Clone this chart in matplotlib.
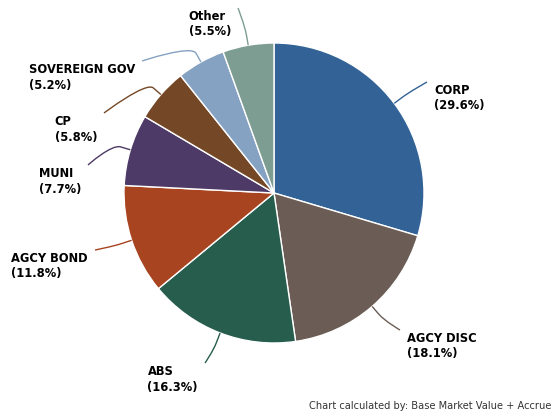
import numpy as np
import matplotlib.pyplot as plt
from matplotlib.path import Path
from matplotlib.patches import PathPatch

labels = ["CORP", "AGCY DISC", "ABS", "AGCY BOND", "MUNI", "CP", "SOVEREIGN GOV", "Other"]
values = [29.6, 18.1, 16.3, 11.8, 7.7, 5.8, 5.2, 5.5]
colors = ["#336396", "#6b5d55", "#275d4d", "#a8441f", "#4e3a66", "#744826", "#86a2c2", "#7d9d93"]

# connector end points (pixels, y down), picked to match the label layout
ends = [(427, 82), (400, 330), (205, 363), (95, 250), (88, 165), (104, 113), (142, 61), (238, 8)]

W, H = 556, 413
cx, cy, r = 274, H - 193, 150

fig = plt.figure(figsize=(W / 100, H / 100), dpi=100)
ax = fig.add_axes([0, 0, 1, 1])
wedges, _ = ax.pie(values, colors=colors, startangle=90, counterclock=False,
                   center=(cx, cy), radius=r,
                   wedgeprops=dict(edgecolor="white", linewidth=1))
ax.set_xlim(0, W)
ax.set_ylim(0, H)
ax.set_aspect("equal")
ax.axis("off")

for w, lab, val, col, (ex, ey) in zip(wedges, labels, values, colors, ends):
    mid = np.deg2rad((w.theta1 + w.theta2) / 2)
    tx, ty = cx + r * np.cos(mid), cy + r * np.sin(mid)
    bx, by = cx + (r + 10) * np.cos(mid), cy + (r + 10) * np.sin(mid)
    ey2 = H - ey
    path = Path([(ex, ey2), (ex, ey2), (2 * bx - tx, 2 * by - ty), (bx, by), (tx, ty)],
                [Path.MOVETO, Path.CURVE4, Path.CURVE4, Path.CURVE4, Path.LINETO])
    ax.add_patch(PathPatch(path, fill=False, edgecolor=col, linewidth=1))
    right = ex > cx
    ax.text(ex + 7 if right else ex - 7, H - (ey + 2), f"{lab}\n({val}%)",
            ha="left" if right else "right", va="top", multialignment="left",
            fontsize=8.3, fontweight="bold", color="black", linespacing=1.25)

fig.text(309 / W, 1 - 406 / H, "Chart calculated by: Base Market Value + Accrue",
         ha="left", va="center", fontsize=7.1, color="#333333")

fig.savefig("out.png", dpi=100)
